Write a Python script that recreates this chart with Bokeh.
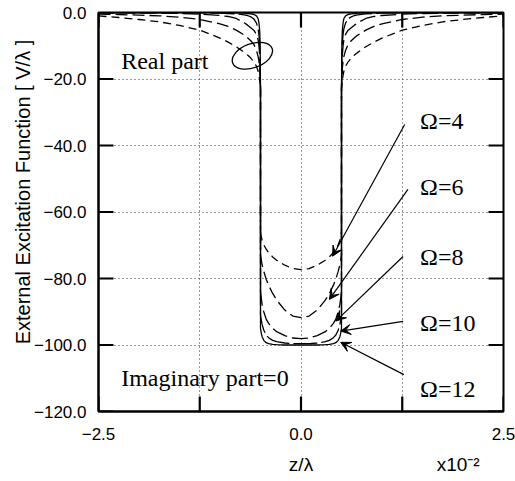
import math
from bokeh.plotting import figure
from bokeh.models import Range1d, FixedTicker, LinearAxis, Label, Arrow, VeeHead, ColumnDataSource
from bokeh.embed import file_html
from bokeh.resources import INLINE

# ---- data (right half; the chart is symmetric in z) ----
omegas = [4, 6, 8, 10, 12]
z_outer = [0.5, 0.505, 0.51, 0.52, 0.53, 0.55, 0.58, 0.62, 0.66, 0.7, 0.8, 0.9, 1.0,
           1.25, 1.5, 1.75, 2.0, 2.25, 2.5]
outer_4 = [-23, -21.5, -20.3, -18.8, -17.6, -16.2, -14.9, -13.7, -12.8, -12.0, -10.3, -8.9, -7.7,
           -5.3, -3.9, -2.8, -2.1, -1.5, -1.0]
outer_6 = [-23, -19.5, -17.0, -14.5, -13.2, -11.4, -9.7, -8.5, -7.6, -6.8, -5.3, -4.2, -3.4,
           -2.1, -1.4, -1.0, -0.8, -0.6, -0.5]
outer_8 = [-23, -16.5, -13.0, -9.8, -8.2, -6.6, -5.4, -4.6, -3.8, -3.1, -1.8, -1.2, -0.9,
           -0.5, -0.3, -0.2, -0.2, -0.1, -0.1]
outer_10 = [-23, -13.0, -9.5, -6.5, -4.8, -3.2, -2.0, -1.3, -0.9, -0.7, -0.4, -0.3, -0.2,
            -0.1, -0.1, 0.0, 0.0, 0.0, 0.0]
outer_12 = [-23, -9.0, -5.5, -3.0, -1.8, -1.0, -0.6, -0.4, -0.3, -0.2, -0.1, -0.1, 0.0,
            0.0, 0.0, 0.0, 0.0, 0.0, 0.0]
z_inner = [0.0, 0.1, 0.2, 0.3, 0.35, 0.4, 0.43, 0.46, 0.48, 0.49, 0.5]
inner_4 = [-77.3, -77.0, -76.0, -74.5, -73.5, -72.2, -71.2, -69.8, -68.5, -67.5, -66.0]
inner_6 = [-91.8, -91.3, -89.5, -86.5, -84.5, -82.0, -80.2, -77.8, -75.8, -74.5, -73.0]
inner_8 = [-98.1, -97.9, -97.2, -96.0, -95.0, -93.5, -92.2, -90.0, -87.8, -86.0, -84.0]
inner_10 = [-99.6, -99.6, -99.4, -99.0, -98.6, -97.8, -97.0, -95.5, -93.8, -92.5, -91.0]
inner_12 = [-100.0, -100.0, -100.0, -99.9, -99.8, -99.6, -99.3, -98.6, -97.5, -96.5, -95.0]

x_ticks = [-2.5, -1.25, 0.0, 1.25, 2.5]
x_tick_labels = ["\u22122.5", "", "0.0", "", "2.5"]
y_ticks = [-120, -100, -80, -60, -40, -20, 0]
y_tick_labels = ["\u2212120.0", "\u2212100.0", "\u221280.0", "\u221260.0", "\u221240.0", "\u221220.0", "0.0"]
x_title = "z/\u03bb"
x_scale_note = "x10\u207b\u00b2"
x_title_pos = [0.0, 1.94]
y_title = "External Excitation Function [ V/\u03bb ]"

label_texts = ["\u03a9=4", "\u03a9=6", "\u03a9=8", "\u03a9=10", "\u03a9=12"]
label_x = [1.47, 1.47, 1.47, 1.47, 1.47]
label_y = [-32.5, -52.5, -73.5, -93.3, -113.3]
arrow_x0 = [1.28, 1.32, 1.26, 1.26, 1.27]
arrow_y0 = [-33.7, -53.2, -73.4, -92.9, -108.9]
arrow_x1 = [0.39, 0.35, 0.43, 0.49, 0.49]
arrow_y1 = [-73.3, -86.3, -92.8, -95.8, -99.2]

outers = [outer_4, outer_6, outer_8, outer_10, outer_12]
inners = [inner_4, inner_6, inner_8, inner_10, inner_12]
dashes = ["8 5", "12 5", "16 5", "24 4", "solid"]

SANS = "Liberation Sans"
SERIF = "Liberation Serif"

W, H = 515, 481
BL, BR, BT, BB = 98, 12, 12, 70
TICK_PX = 15


def full_curve(zi, vi, zo, vo):
    zs = [-z for z in reversed(zo)]
    vs = list(reversed(vo))
    for z, v in reversed(list(zip(zi, vi))):
        if z > 0:
            zs.append(-z)
            vs.append(v)
    zs += list(zi) + list(zo)
    vs += list(vi) + list(vo)
    return zs, vs


p = figure(width=W, height=H, x_range=Range1d(x_ticks[0], x_ticks[-1]),
           y_range=Range1d(y_ticks[0], y_ticks[-1]),
           output_backend="svg", toolbar_location=None,
           min_border_left=BL, min_border_right=BR, min_border_top=BT, min_border_bottom=BB)
p.background_fill_color = "white"
p.border_fill_color = "white"
p.outline_line_color = "black"
p.outline_line_width = 2

# grid
p.xgrid.ticker = FixedTicker(ticks=[-1.25, 0.0, 1.25])
p.ygrid.ticker = FixedTicker(ticks=[-100, -80, -60, -40, -20])
for g in (p.xgrid, p.ygrid):
    g.grid_line_color = "#333333"
    g.grid_line_dash = "1 3"
    g.grid_line_width = 1

# axes
xa = p.xaxis[0]
xa.ticker = FixedTicker(ticks=x_ticks)
xa.major_label_overrides = dict(zip(x_ticks, x_tick_labels))
ya = p.yaxis[0]
ya.ticker = FixedTicker(ticks=y_ticks)
ya.major_label_overrides = dict(zip(y_ticks, y_tick_labels))
for ax in (xa, ya):
    ax.major_tick_in = 0
    ax.major_tick_out = 0
    ax.minor_tick_line_color = None
    ax.axis_line_width = 2
    ax.major_label_text_font = SANS
    ax.major_label_text_font_size = "17px"
    ax.major_label_text_color = "black"
xa.major_label_standoff = 16
ya.major_label_standoff = 12

# y-axis title, placed in the left side panel so that it can sit where the original has it
p.add_layout(Label(x=-3.43, y=-54.0, text=y_title, angle=math.pi / 2,
                   text_font=SANS, text_font_size="20px", text_color="black",
                   text_align="center", text_baseline="middle"), "left")

# second row below the x axis: axis title and the scale factor
xa2 = LinearAxis(ticker=FixedTicker(ticks=x_title_pos),
                 major_label_overrides=dict(zip(x_title_pos, [x_title, x_scale_note])))
xa2.axis_line_color = None
xa2.major_tick_in = 0
xa2.major_tick_out = 0
xa2.minor_tick_line_color = None
xa2.major_label_standoff = 11
xa2.major_label_text_font = SANS
xa2.major_label_text_font_size = "19px"
xa2.major_label_text_color = "black"
p.add_layout(xa2, "below")

# inward tick marks on all four sides (tick length converted from pixels to data units)
dx = TICK_PX * (x_ticks[-1] - x_ticks[0]) / (W - BL - BR)
dy = TICK_PX * (y_ticks[-1] - y_ticks[0]) / (H - BT - BB)
x_lo, x_hi = x_ticks[0], x_ticks[-1]
y_lo, y_hi = y_ticks[0], y_ticks[-1]
seg_x0 = [x_lo] * len(y_ticks) + [x_hi] * len(y_ticks) + list(x_ticks) + list(x_ticks)
seg_x1 = [x_lo + dx] * len(y_ticks) + [x_hi - dx] * len(y_ticks) + list(x_ticks) + list(x_ticks)
seg_y0 = list(y_ticks) + list(y_ticks) + [y_lo] * len(x_ticks) + [y_hi] * len(x_ticks)
seg_y1 = list(y_ticks) + list(y_ticks) + [y_lo + dy] * len(x_ticks) + [y_hi - dy] * len(x_ticks)
p.segment(x0=seg_x0, y0=seg_y0, x1=seg_x1, y1=seg_y1, line_color="black", line_width=2.2)

# curves
for om, vo, vi, d in zip(omegas, outers, inners, dashes):
    zs, vs = full_curve(z_inner, vi, z_outer, vo)
    p.line(zs, vs, line_color="black", line_width=1.3, line_dash=d)

# loop around the real-part curves
p.ellipse(x=[-0.6], y=[-13.0], width=[42], height=[24], angle=[0.35],
          width_units="screen", height_units="screen",
          fill_color=None, line_color="black", line_width=1.3)

# arrows
asrc = ColumnDataSource(dict(x0=arrow_x0, y0=arrow_y0, x1=arrow_x1, y1=arrow_y1))
p.add_layout(Arrow(end=VeeHead(size=10, fill_color="black", line_color="black", line_width=1),
                   x_start="x0", y_start="y0", x_end="x1", y_end="y1", source=asrc,
                   line_color="black", line_width=1.2))

# labels
for t, lx, ly in zip(label_texts, label_x, label_y):
    p.add_layout(Label(x=lx, y=ly, text=t, text_font=SERIF, text_font_size="24px",
                       text_baseline="middle", text_align="left", text_color="black"))
p.add_layout(Label(x=-2.22, y=-14.5, text="Real part", text_font=SERIF, text_font_size="24px",
                   text_baseline="middle", text_align="left", text_color="black"))
p.add_layout(Label(x=-2.22, y=-110.0, text="Imaginary part=0", text_font=SERIF,
                   text_font_size="24px", text_baseline="middle", text_align="left",
                   text_color="black"))

open("out.html", "w").write(file_html(p, INLINE))
